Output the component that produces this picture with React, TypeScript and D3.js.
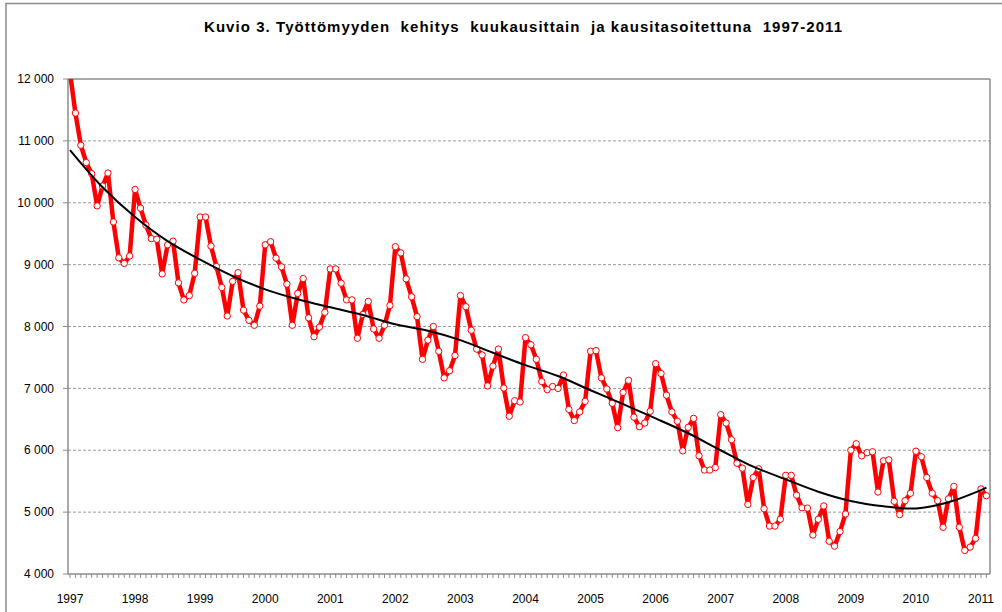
import React from 'react';
import * as d3 from 'd3';

// Monthly unemployment figures (thousands of persons), Jan 1997 – Feb 2011
const y1997 = [12100, 11450, 10930, 10650, 10470, 9950, 10270, 10480, 9690, 9110, 9020, 9140];
const y1998 = [10215, 9913, 9640, 9420, 9410, 8850, 9320, 9380, 8706, 8430, 8500, 8860];
const y1999 = [9770, 9770, 9300, 8970, 8630, 8170, 8730, 8870, 8265, 8100, 8020, 8330];
const y2000 = [9320, 9370, 9105, 8965, 8685, 8020, 8535, 8775, 8140, 7835, 7990, 8230];
const y2001 = [8930, 8930, 8700, 8430, 8430, 7810, 8195, 8405, 7960, 7810, 8020, 8340];
const y2002 = [9290, 9190, 8770, 8480, 8160, 7470, 7780, 8000, 7600, 7170, 7285, 7530];
const y2003 = [8500, 8320, 7940, 7635, 7540, 7040, 7360, 7635, 7005, 6550, 6800, 6780];
const y2004 = [7820, 7705, 7470, 7110, 6980, 7030, 7000, 7215, 6660, 6480, 6620, 6790];
const y2005 = [7600, 7610, 7170, 6990, 6760, 6365, 6935, 7130, 6535, 6380, 6440, 6630];
const y2006 = [7400, 7240, 6890, 6620, 6470, 5990, 6370, 6515, 5910, 5680, 5680, 5720];
const y2007 = [6575, 6440, 6170, 5790, 5710, 5125, 5560, 5700, 5055, 4775, 4775, 4885];
const y2008 = [5595, 5595, 5275, 5070, 5065, 4630, 4885, 5100, 4530, 4450, 4685, 4970];
const y2009 = [6000, 6105, 5910, 5960, 5975, 5325, 5830, 5845, 5175, 4960, 5185, 5305];
const y2010 = [5985, 5895, 5560, 5305, 5185, 4755, 5215, 5415, 4755, 4380, 4435, 4575];
const y2011 = [5375, 5265];

const monthly = [
  ...y1997, ...y1998, ...y1999, ...y2000, ...y2001, ...y2002, ...y2003, ...y2004,
  ...y2005, ...y2006, ...y2007, ...y2008, ...y2009, ...y2010, ...y2011,
];

// Seasonally adjusted series, read at months since Jan 1997
const trendMonths = [0, 6, 12, 18, 24, 30, 36, 42, 48, 54, 60, 66, 72, 78, 84, 90, 96, 102, 108, 114, 120, 126, 132, 138, 144, 150, 156, 162, 168, 169];
const trendValues = [10850, 10250, 9770, 9380, 9080, 8815, 8600, 8440, 8310, 8185, 8035, 7930, 7780, 7575, 7375, 7200, 6970, 6745, 6515, 6275, 6000, 5735, 5530, 5330, 5180, 5095, 5060, 5160, 5355, 5395];

const yearLabels = ['1997', '1998', '1999', '2000', '2001', '2002', '2003', '2004', '2005', '2006', '2007', '2008', '2009', '2010', '2011'];
const yTicks = [4000, 5000, 6000, 7000, 8000, 9000, 10000, 11000, 12000];

const title = 'Kuvio 3. Työttömyyden  kehitys  kuukausittain  ja kausitasoitettuna  1997-2011';

const W = 1002;
const H = 612;
const plot = {left: 68, right: 990, top: 79, bottom: 574};
const font = 'Arial, "Liberation Sans", sans-serif';

export default function App() {
  const x = d3.scaleLinear().domain([0, 168]).range([70, 981]);
  const y = d3.scaleLinear().domain([4000, 12000]).range([plot.bottom, plot.top]);

  const fmt = (v: number) => d3.format(',')(v).replace(',', ' ');

  const redLine = d3
    .line<number>()
    .x((_, i) => x(i))
    .y((d) => y(d));

  const trendLine = d3
    .line<number>()
    .x((_, i) => x(trendMonths[i]))
    .y((d) => y(d))
    .curve(d3.curveCatmullRom);

  const monthTicks = d3.range(0, 170);

  return (
    <svg
      width={W}
      height={H}
      style={{position: 'absolute', left: 0, top: 0, background: '#fff'}}
      fontFamily={font}
    >
      <defs>
        <clipPath id="plot-clip">
          <rect x={plot.left} y={plot.top} width={plot.right - plot.left} height={plot.bottom - plot.top} />
        </clipPath>
      </defs>

      {/* outer chart frame */}
      <rect x={6} y={3.5} width={1100} height={700} fill="none" stroke="#8c8c8c" strokeWidth={1.5} />

      <text
        x={523}
        y={32}
        textAnchor="middle"
        fontSize={15}
        fontWeight="bold"
        textLength={638}
        lengthAdjust="spacing"
        style={{whiteSpace: 'pre'}}
      >
        {title}
      </text>

      {/* grid lines */}
      {yTicks.slice(1, -1).map((t) => (
        <line
          key={t}
          x1={plot.left}
          x2={plot.right}
          y1={y(t)}
          y2={y(t)}
          stroke="#9a9a9a"
          strokeDasharray="3,2"
        />
      ))}

      {/* plot frame */}
      <line x1={plot.left} x2={plot.right} y1={plot.top} y2={plot.top} stroke="#8c8c8c" strokeWidth={1.5} />
      <line x1={plot.right} x2={plot.right} y1={plot.top} y2={plot.bottom} stroke="#8c8c8c" strokeWidth={1.5} />
      <line x1={plot.left} x2={plot.left} y1={plot.top} y2={plot.bottom} stroke="#8c8c8c" strokeWidth={1.5} />
      <line x1={plot.left} x2={plot.right} y1={plot.bottom} y2={plot.bottom} stroke="#8c8c8c" strokeWidth={1.5} />

      {/* y axis */}
      {yTicks.map((t) => (
        <g key={t}>
          <line x1={plot.left - 5} x2={plot.left} y1={y(t)} y2={y(t)} stroke="#8c8c8c" />
          <text x={54} y={y(t)} dy="0.35em" textAnchor="end" fontSize={12}>
            {fmt(t)}
          </text>
        </g>
      ))}

      {/* x axis month ticks */}
      {monthTicks.map((m) => (
        <line key={m} x1={x(m)} x2={x(m)} y1={plot.bottom} y2={plot.bottom + 4} stroke="#8c8c8c" />
      ))}
      {yearLabels.map((lab, i) => (
        <text key={lab} x={x(i * 12)} y={603} textAnchor="middle" fontSize={12}>
          {lab}
        </text>
      ))}

      <g clipPath="url(#plot-clip)">
        <path d={redLine(monthly) || ''} fill="none" stroke="#ff0000" strokeWidth={4.5} strokeLinejoin="round" />
        {monthly.map((v, i) => (
          <circle key={i} cx={x(i)} cy={y(v)} r={3.2} fill="#fff" stroke="#ff0000" strokeWidth={1} />
        ))}
        <path d={trendLine(trendValues) || ''} fill="none" stroke="#000" strokeWidth={2} />
      </g>
    </svg>
  );
}
